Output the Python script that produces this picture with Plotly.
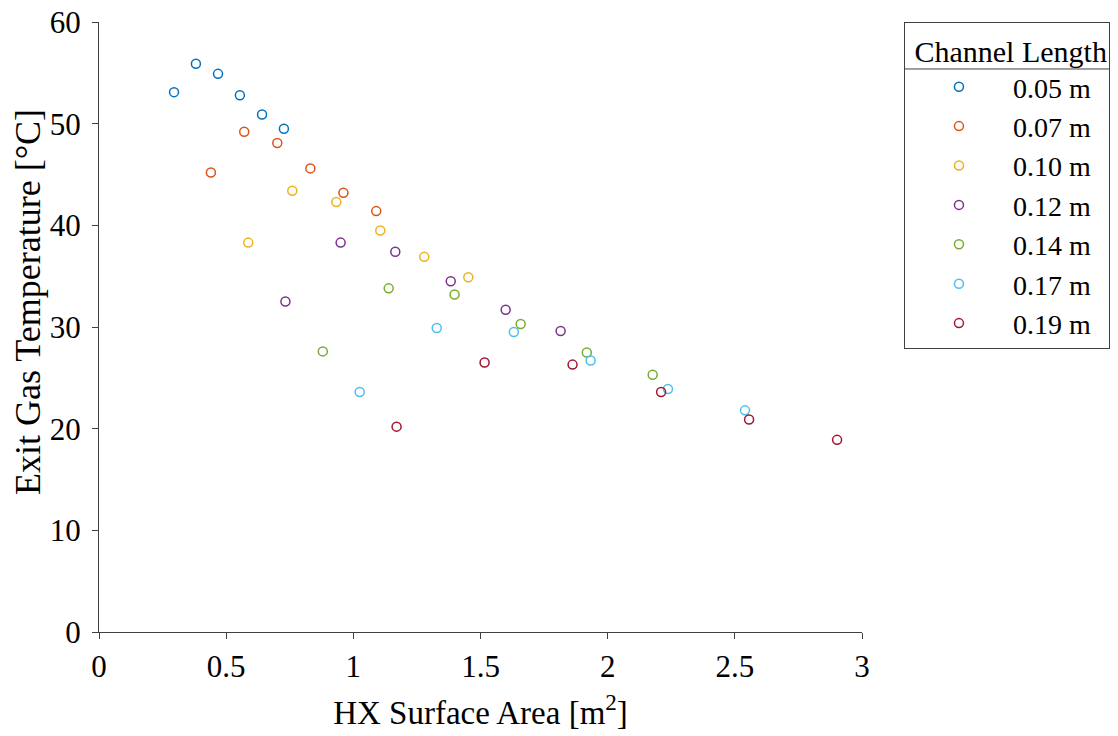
import plotly.graph_objects as go

lengths = ["0.05 m", "0.07 m", "0.10 m", "0.12 m", "0.14 m", "0.17 m", "0.19 m"]
colors = ["#0072BD", "#D95319", "#EDB120", "#7E2F8E", "#77AC30", "#4DBEEE", "#A2142F"]

area_005 = [0.295, 0.381, 0.468, 0.554, 0.641, 0.727]
temp_005 = [53.1, 55.9, 54.9, 52.8, 50.9, 49.5]
area_007 = [0.440, 0.571, 0.701, 0.831, 0.961, 1.090]
temp_007 = [45.2, 49.2, 48.1, 45.6, 43.2, 41.4]
area_010 = [0.587, 0.760, 0.933, 1.106, 1.279, 1.452]
temp_010 = [38.3, 43.4, 42.3, 39.5, 36.9, 34.9]
area_012 = [0.733, 0.950, 1.165, 1.383, 1.599, 1.815]
temp_012 = [32.5, 38.3, 37.4, 34.5, 31.7, 29.6]
area_014 = [0.880, 1.139, 1.398, 1.658, 1.918, 2.177]
temp_014 = [27.6, 33.8, 33.2, 30.3, 27.5, 25.3]
area_017 = [1.025, 1.328, 1.631, 1.933, 2.237, 2.540]
temp_017 = [23.6, 29.9, 29.5, 26.7, 23.9, 21.8]
area_019 = [1.170, 1.516, 1.862, 2.210, 2.556, 2.902]
temp_019 = [20.2, 26.5, 26.3, 23.6, 20.9, 18.9]

areas = [area_005, area_007, area_010, area_012, area_014, area_017, area_019]
temps = [temp_005, temp_007, temp_010, temp_012, temp_014, temp_017, temp_019]

x_ticks = [0, 0.5, 1, 1.5, 2, 2.5, 3]
x_ticktext = ["0", "0.5", "1", "1.5", "2", "2.5", "3"]
y_ticks = [0, 10, 20, 30, 40, 50, 60]

FONT = "Liberation Serif, Times New Roman, serif"

fig = go.Figure()
for name, c, xs, ys in zip(lengths, colors, areas, temps):
    fig.add_trace(go.Scatter(
        x=xs, y=ys, mode="markers", name=name,
        marker=dict(symbol="circle-open", size=9, color=c, line=dict(width=1.5, color=c)),
    ))

axis_common = dict(
    showgrid=False, zeroline=False, showline=True, linecolor="#404040", linewidth=1,
    ticks="outside", ticklen=6, tickcolor="#404040",
    tickfont=dict(family=FONT, size=31, color="black"),
    ticklabeloverflow="allow",
)

# page has an 8px body margin; compensate so the plot area sits at the reference pixels
fig.update_layout(
    width=1118, height=736,
    margin=dict(l=91, r=264, t=14, b=112, autoexpand=False),
    plot_bgcolor="white", paper_bgcolor="white",
    font=dict(family=FONT, color="black"),
    xaxis=dict(range=[0, 3], tickvals=x_ticks, ticktext=x_ticktext,
               ticklabelstandoff=1,
               title=dict(text="HX Surface Area [m<sup>2</sup>]", font=dict(family=FONT, size=33), standoff=17),
               **axis_common),
    yaxis=dict(range=[0, 60], tickvals=y_ticks, ticklabelstandoff=5,
               **axis_common),
    legend=dict(
        x=1.055, xanchor="left", y=1, yanchor="top",
        bordercolor="#404040", borderwidth=1, bgcolor="rgba(0,0,0,0)",
        font=dict(family=FONT, size=28, color="black"),
        title=dict(text="\u00a0Channel Length", font=dict(family=FONT, size=30, color="black")),
        itemwidth=98,
    ),
    showlegend=True,
    shapes=[dict(type="line", xref="paper", yref="paper",
                 x0=1.055, x1=1.36, y0=0.923, y1=0.923,
                 line=dict(color="#404040", width=1))],
    annotations=[dict(text="Exit Gas Temperature [°C]", textangle=-90,
                      xref="paper", yref="paper", x=-0.093, y=0.541,
                      xanchor="center", yanchor="middle", showarrow=False,
                      font=dict(family=FONT, size=36, color="black"))],
)

fig.write_html("out.html")
